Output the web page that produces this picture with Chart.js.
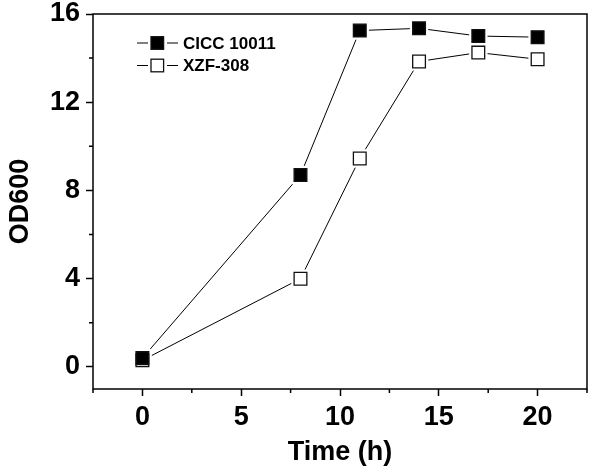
<!DOCTYPE html>
<html>
<head>
<meta charset="utf-8">
<script src="https://cdn.jsdelivr.net/npm/chart.js@4/dist/chart.umd.min.js"></script>
<style>
  html, body { margin: 0; padding: 0; background: #fff; }
  #wrap { width: 600px; height: 473px; }
</style>
</head>
<body>
<div id="wrap"><canvas id="growth-chart"></canvas></div>
<script>
const timeHours = [0, 8, 11, 14, 17, 20];
const ciccOD = [0.4, 8.7, 15.25, 15.35, 15.0, 14.95];
const xzfOD = [0.3, 4.0, 9.45, 13.85, 14.25, 13.95];
const seriesNames = ['CICC 10011', 'XZF-308'];
const seriesFill = ['#000', '#fff'];
const xMajorTicks = [0, 5, 10, 15, 20];
const xMinorTicks = [-2.5, 2.5, 7.5, 12.5, 17.5, 22.5];
const yMajorTicks = [0, 4, 8, 12, 16];
const yMinorTicks = [2, 6, 10, 14];

const FONT = 'Liberation Sans, Arial, sans-serif';
Chart.defaults.font.family = FONT;

const toPoints = values => timeHours.map((t, i) => ({ x: t, y: values[i] }));

const datasets = [];
[ciccOD, xzfOD].forEach((values, i) => {
    // connecting line (drawn first)
    datasets.push({
        label: seriesNames[i] + ' line',
        data: toPoints(values),
        borderColor: '#000',
        borderWidth: 1,
        pointRadius: 0,
        pointHoverRadius: 0,
        order: 3
    });
    // white square behind each marker leaves the small gap in the line
    datasets.push({
        label: seriesNames[i] + ' gap',
        data: toPoints(values),
        showLine: false,
        pointStyle: 'rect',
        pointRadius: 13,
        pointBackgroundColor: '#fff',
        pointBorderColor: '#fff',
        pointBorderWidth: 0,
        order: 2
    });
    // the markers themselves
    datasets.push({
        label: seriesNames[i],
        data: toPoints(values),
        showLine: false,
        pointStyle: 'rect',
        pointRadius: 9,
        pointBackgroundColor: seriesFill[i],
        pointBorderColor: '#111',
        pointBorderWidth: 1.3,
        order: i === 0 ? 0 : 1
    });
});

const framePlugin = {
    id: 'frame',
    afterDraw(chart) {
        const { ctx, chartArea: a, scales: { x, y } } = chart;
        ctx.save();
        ctx.strokeStyle = '#000';
        ctx.lineWidth = 1.5;
        ctx.strokeRect(a.left, a.top, a.right - a.left, a.bottom - a.top);

        // minor ticks
        ctx.beginPath();
        xMinorTicks.forEach(v => {
            const px = x.getPixelForValue(v);
            ctx.moveTo(px, a.bottom);
            ctx.lineTo(px, a.bottom + 4);
        });
        yMinorTicks.forEach(v => {
            const py = y.getPixelForValue(v);
            ctx.moveTo(a.left, py);
            ctx.lineTo(a.left - 4, py);
        });
        ctx.stroke();

        // legend: line - marker - line, then name
        ctx.font = 'bold 17px ' + FONT;
        ctx.textBaseline = 'middle';
        ctx.fillStyle = '#000';
        seriesNames.forEach((name, i) => {
            const rowY = a.top + 29 + i * 22.5;
            const left = a.left + 44;
            ctx.lineWidth = 1;
            ctx.beginPath();
            ctx.moveTo(left, rowY);
            ctx.lineTo(left + 11, rowY);
            ctx.moveTo(left + 30, rowY);
            ctx.lineTo(left + 41, rowY);
            ctx.stroke();
            ctx.lineWidth = 1.3;
            ctx.fillStyle = seriesFill[i];
            ctx.fillRect(left + 14, rowY - 6.3, 12.6, 12.6);
            ctx.strokeStyle = '#111';
            ctx.strokeRect(left + 14, rowY - 6.3, 12.6, 12.6);
            ctx.strokeStyle = '#000';
            ctx.fillStyle = '#000';
            ctx.fillText(name, left + 46, rowY + 1);
        });
        ctx.restore();
    }
};

const ctx = document.getElementById('growth-chart').getContext('2d');
const growthChart = new Chart(ctx, {
    type: 'line',
    data: { datasets: datasets },
    options: {
        responsive: true,
        maintainAspectRatio: false,
        animation: false,
        layout: { padding: { top: 14, right: 3, left: 0, bottom: 0 } },
        plugins: {
            legend: { display: false },
            tooltip: { enabled: false }
        },
        scales: {
            x: {
                type: 'linear',
                min: -2.5,
                max: 22.5,
                afterBuildTicks: s => { s.ticks = xMajorTicks.map(v => ({ value: v })); },
                afterFit: s => {
                    s.height = 84;
                    s.paddingLeft = 0;
                    s.paddingRight = 0;
                },
                border: { display: false },
                grid: { drawOnChartArea: false, tickLength: 7, tickColor: '#000', tickWidth: 1.5 },
                ticks: {
                    color: '#000',
                    autoSkip: false,
                    maxRotation: 0,
                    padding: 5,
                    font: { size: 27, weight: 'bold' }
                },
                title: {
                    display: true,
                    text: 'Time (h)',
                    color: '#000',
                    font: { size: 27, weight: 'bold' },
                    padding: { top: 0, bottom: 4 }
                }
            },
            y: {
                min: -1,
                max: 16,
                afterBuildTicks: s => { s.ticks = yMajorTicks.map(v => ({ value: v })); },
                afterFit: s => {
                    s.width = 93;
                    s.paddingTop = 0;
                    s.paddingBottom = 0;
                },
                border: { display: false },
                grid: { drawOnChartArea: false, tickLength: 7, tickColor: '#000', tickWidth: 1.5 },
                ticks: {
                    color: '#000',
                    padding: 6,
                    font: { size: 27, weight: 'bold' }
                },
                title: {
                    display: true,
                    text: 'OD600',
                    color: '#000',
                    font: { size: 27, weight: 'bold' },
                    padding: { top: 4, bottom: 0 }
                }
            }
        }
    },
    plugins: [framePlugin]
});
</script>
</body>
</html>
